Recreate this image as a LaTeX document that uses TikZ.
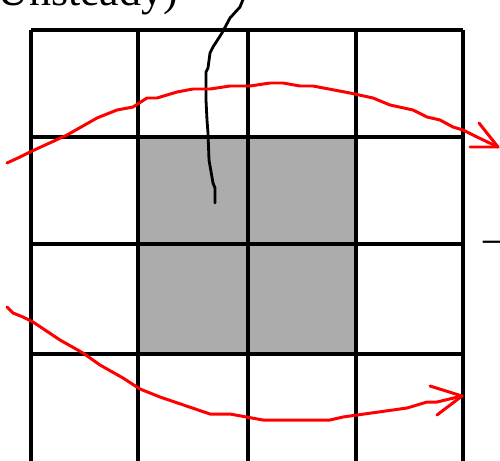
\documentclass[tikz,border=0pt]{standalone}
\usepackage{fontspec}
\setmainfont{Liberation Serif}
\definecolor{flowRed}{RGB}{255, 0, 0}
\definecolor{cellGray}{RGB}{172, 172, 172}
\usepackage{tikz}
\usetikzlibrary{positioning,calc,arrows.meta}

\begin{document}
\begin{tikzpicture}[x=0.02cm,y=-0.02cm,
        gridline/.style={line width=2.1pt,black},
        flowline/.style={line width=1.7pt,flowRed,line join=round,line cap=round},
        bigtext/.style={font=\fontsize{25}{30}\selectfont,inner sep=0pt}]
                \useasboundingbox (0,0) rectangle (500,460);
                \clip (0,0) rectangle (500,460);

                % Shaded block of cells
                \fill[cellGray] (138,137) rectangle (356,354);

                % Grid
                \foreach \x in {31,138,248,356,463}
                    \draw[gridline] (\x,30) -- (\x,470);
                \foreach \y in {30,137,244,354}
                    \draw[gridline] (31,\y) -- (463,\y);

                % Labels cut by the frame
                \node[bigtext,anchor=base west] (title) at (-3,5) {Unsteady)};
                \node[bigtext,anchor=base west] (dash) at (483,252) {–};

                % Pointer line
                \draw[line width=1.6pt,line join=round,line cap=round] plot coordinates {
                    (244,-3) (240,7) (230,18) (222,33) (213,47) (210,53) (208,68) (206,72)
                    (206,100) (207,120) (208,133) (209,160) (213,183) (215,188) (215,203)
                };

                % Upper flow path
                \draw[flowline] plot coordinates {
                    (7,163) (20,157) (30,152) (67,135) (97,118) (117,110) (133,107) (147,98)
                    (157,98) (177,92) (193,89) (210,89) (230,86) (250,86) (270,83) (283,83)
                    (300,86) (313,86) (350,93) (373,98) (390,105) (413,110) (427,117)
                    (440,120) (453,127) (463,130) (477,137) (498,147)
                };
                \coordinate (tipUp) at (498,147);
                \draw[flowline] (479,123) -- (tipUp) -- (470,147);

                % Lower flow path
                \draw[flowline] plot coordinates {
                    (7,307) (13,313) (23,317) (33,322) (60,340) (83,353) (100,365) (123,378)
                    (140,389) (160,397) (210,414) (230,414) (263,420) (330,420) (343,417)
                    (407,408) (427,402) (437,402) (462,396)
                };
                \coordinate (tipLow) at (462,396);
                \draw[flowline] (430,386) -- (tipLow) -- (437,415);
\end{tikzpicture}
\end{document}
